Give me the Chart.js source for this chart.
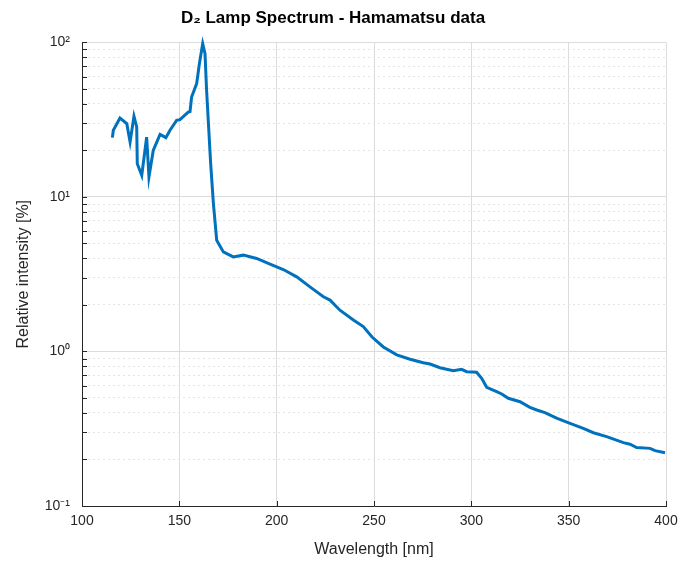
<!DOCTYPE html>
<html>
<head>
<meta charset="utf-8">
<script src="https://cdn.jsdelivr.net/npm/chart.js@4/dist/chart.umd.min.js"></script>
<style>
html,body{margin:0;padding:0;background:#fff;}
#wrap{width:680px;height:563px;}
</style>
</head>
<body>
<div id="wrap"><canvas id="c" width="680" height="563"></canvas></div>
<script>
const wavelength = [115.6,116.1,119.5,123,124.7,126.7,128.1,128.4,130.7,133.2,134.4,136.6,140.1,143.1,145.2,148.6,150.3,154.6,155.5,156.3,158.9,160.3,162,163.2,164,166.1,167.5,169.2,172.6,177.7,182.9,189.7,196.6,203.4,210.3,217.1,224,227.4,232.5,239.4,244.5,249,254.8,261.7,268.5,275.3,278.8,283.9,290.7,295,297.6,302.7,305.3,307.9,313,315.6,319,325,330.1,333.6,337.8,343.8,350.7,357.5,362.7,369.5,378.1,381.5,384.9,391.8,394.4,399.5];
const intensity = [24.2,27,32.4,29.8,22.7,33.3,28.4,16.4,13.8,24.4,13.5,20,25.4,24.2,27,31.3,31.6,35.4,35.7,44.3,54.1,72.8,98,84.5,49,16.4,9.06,5.25,4.41,4.09,4.2,4.0,3.67,3.39,3.04,2.62,2.26,2.15,1.85,1.6,1.45,1.24,1.07,0.95,0.89,0.845,0.83,0.785,0.75,0.766,0.74,0.733,0.67,0.586,0.55,0.531,0.498,0.473,0.435,0.418,0.402,0.37,0.343,0.318,0.298,0.281,0.257,0.251,0.239,0.236,0.228,0.221];
const xTicks = [100,150,200,250,300,350,400];
const yDecades = [0.1,1,10,100];
const yDecadeLabels = ['10\u207B\u00B9','10\u2070','10\u00B9','10\u00B2'];
const titleText = 'D\u2082 Lamp Spectrum - Hamamatsu data';
const xTitle = 'Wavelength [nm]';
const yTitle = 'Relative intensity [%]';

const FONT = "'Liberation Sans', Arial, Helvetica, sans-serif";
const yAll = [];
for (let e = -1; e <= 1; e++) for (let s = 1; s <= 9; s++) yAll.push(+(s * Math.pow(10, e)).toPrecision(3));
yAll.push(100);
const isDecade = v => Math.abs(Math.log10(v) - Math.round(Math.log10(v))) < 1e-9;

const insideTicks = {
  id: 'insideTicks',
  afterDraw(chart) {
    const {ctx, chartArea: a, scales} = chart;
    ctx.save();
    ctx.strokeStyle = '#262626';
    ctx.lineWidth = 1;
    ctx.beginPath();
    yAll.forEach(v => {
      const y = Math.round(scales.y.getPixelForValue(v)) + 0.5;
      ctx.moveTo(a.left, y); ctx.lineTo(a.left + 5, y);
    });
    xTicks.forEach(v => {
      const x = Math.round(scales.x.getPixelForValue(v)) + 0.5;
      ctx.moveTo(x, a.bottom); ctx.lineTo(x, a.bottom - 5);
    });
    ctx.stroke();
    ctx.restore();
  }
};

new Chart(document.getElementById('c'), {
  type: 'line',
  data: {
    datasets: [{
      data: wavelength.map((w, i) => ({x: w, y: intensity[i]})),
      borderColor: '#0072BD',
      borderWidth: 3,
      pointRadius: 0,
      tension: 0,
      fill: false,
      clip: false
    }]
  },
  options: {
    responsive: false,
    animation: false,
    devicePixelRatio: 1,
    layout: {padding: {left: 0, right: 14, top: 0, bottom: 0}},
    plugins: {
      legend: {display: false},
      tooltip: {enabled: false},
      title: {
        display: true,
        text: titleText,
        color: '#000',
        font: {family: FONT, size: 17, weight: 'bold'},
        padding: {top: 8, bottom: 14}
      }
    },
    scales: {
      x: {
        type: 'linear',
        min: 100, max: 400,
        afterBuildTicks: s => { s.ticks = xTicks.map(v => ({value: v})); },
        afterFit: s => { s.height = 57; s.paddingLeft = 0; s.paddingRight = 0; },
        ticks: {color: '#262626', font: {family: FONT, size: 14}, padding: 7, maxRotation: 0, autoSkip: false},
        grid: {color: '#dcdcdc', lineWidth: 1, drawTicks: false},
        border: {display: true, color: '#262626', width: 1},
        title: {display: true, text: xTitle, color: '#262626', font: {family: FONT, size: 16}, padding: {top: 2, bottom: 4}}
      },
      y: {
        type: 'logarithmic',
        min: 0.1, max: 100,
        afterBuildTicks: s => { s.ticks = yAll.map(v => ({value: v, major: isDecade(v)})); },
        afterFit: s => { s.width = 82; s.paddingTop = 0; s.paddingBottom = 0; },
        ticks: {
          color: '#262626', font: {family: FONT, size: 14}, padding: 12, autoSkip: false,
          callback: v => { const i = yDecades.findIndex(d => Math.abs(d - v) < 1e-9); return i >= 0 ? yDecadeLabels[i] : ''; }
        },
        grid: {
          color: c => (c.tick && isDecade(c.tick.value)) ? '#dcdcdc' : '#e4e4e4',
          lineWidth: 1, drawTicks: false
        },
        border: {
          display: true, color: '#262626', width: 1,
          dash: c => (c.tick && isDecade(c.tick.value)) ? [] : [2, 3]
        },
        title: {display: true, text: yTitle, color: '#262626', font: {family: FONT, size: 16}, padding: {top: 14, bottom: 4}}
      }
    }
  },
  plugins: [insideTicks]
});
</script>
</body>
</html>
